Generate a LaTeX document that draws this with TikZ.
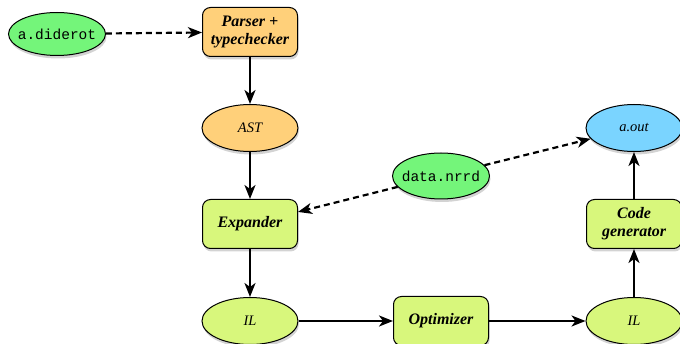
\documentclass[tikz,border=0pt]{standalone}
\usepackage{fontspec}
\setmainfont{Liberation Serif}
\setmonofont{Liberation Mono}
\usetikzlibrary{arrows.meta,shapes.geometric,shadows}

\definecolor{srcgreen}{RGB}{116,245,122}
\definecolor{stageorange}{RGB}{255,208,122}
\definecolor{stagelime}{RGB}{216,247,124}
\definecolor{outblue}{RGB}{122,212,255}

\newcommand{\fname}[1]{\makebox[40pt]{\ttfamily #1}}

\begin{document}
\begin{tikzpicture}[x=1pt, y=-1pt,
		shade/.style={drop shadow={shadow xshift=1pt, shadow yshift=-3pt, opacity=0.35}},
		file/.style={ellipse, draw, line width=1pt, minimum width=97pt, minimum height=46pt, inner sep=0pt, fill=srcgreen, shade, font=\fontsize{14.5}{16}\selectfont},
		data/.style={ellipse, draw, line width=1pt, minimum width=96pt, minimum height=47pt, inner sep=0pt, shade, font=\fontsize{14.5}{16}\itshape},
		stage/.style={rectangle, rounded corners=8pt, draw, line width=1pt, minimum width=95pt, minimum height=49pt, inner sep=0pt, align=center, shade, font=\fontsize{16}{18}\bfseries\itshape},
		flow/.style={line width=2.2pt, -{Stealth[length=14pt, width=11pt, inset=4pt]}},
		load/.style={flow, dash pattern=on 6pt off 4pt}]
			\useasboundingbox (0,0) rectangle (680,344);
			\draw (57, 34) node [file, minimum height=43pt] (src) {\fname{a.diderot}};
			\draw (250, 32) node [stage, fill=stageorange] (parser) {Parser +\\typechecker};
			\draw (250, 128) node [data, fill=stageorange] (ast) {AST};
			\draw (250, 224) node [stage, fill=stagelime] (expander) {Expander};
			\draw (250, 321) node [data, fill=stagelime] (il1) {IL};
			\draw (441, 321) node [stage, fill=stagelime] (optimizer) {Optimizer};
			\draw (634, 321) node [data, fill=stagelime] (il2) {IL};
			\draw (634, 224) node [stage, fill=stagelime] (codegen) {Code\\generator};
			\draw (634, 128) node [data, fill=outblue] (aout) {a.out};
			\draw (441, 176) node [file] (nrrd) {\fname{data.nrrd}};
			\path (src) edge [load] (parser);
			\path (parser) edge [flow] (ast);
			\path (ast) edge [flow] (expander);
			\path (expander) edge [flow] (il1);
			\path (il1) edge [flow] (optimizer);
			\path (optimizer) edge [flow] (il2);
			\path (il2) edge [flow] (codegen);
			\path (codegen) edge [flow] (aout);
			\path (nrrd) edge [load] (expander);
			\path (nrrd) edge [load] (aout);
		\end{tikzpicture}
\end{document}
